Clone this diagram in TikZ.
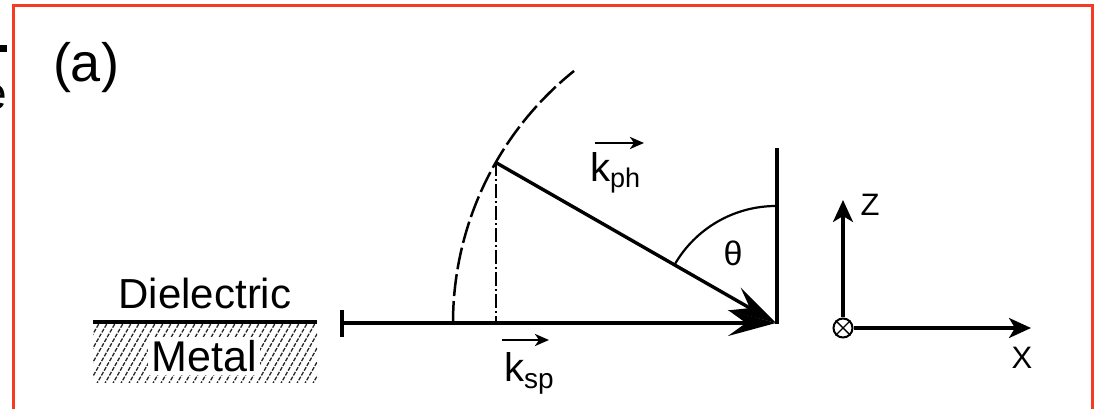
\documentclass[tikz,border=0pt]{standalone}
\usepackage{fontspec}
\setmainfont{Liberation Sans}
\usetikzlibrary{arrows.meta}
\definecolor{framered}{RGB}{245,60,35}
\begin{document}
\begin{tikzpicture}[x=1pt,y=1pt,
  heavy/.style={line width=3.4pt},
  bigtip/.style={-{Stealth[length=48pt,width=26pt,inset=18pt]}},
  vectip/.style={-{Stealth[length=14pt,width=12pt,inset=4pt]}},
  axtip/.style={-{Stealth[length=22pt,width=20pt,inset=6pt]}},
  txt/.style={inner sep=0pt},
  hatchline/.style={line width=1.3pt, black!85, dash pattern=on 4pt off 1.5pt}]
\useasboundingbox (0,0) rectangle (1095,409);
% frame
\draw[framered, line width=3pt] (13.5,-5) -- (13.5,403) -- (1092.5,403) -- (1092.5,-5);
% cut-off fragments at left edge
\begin{scope}
  \clip (0,0) rectangle (8,409);
  \fill (0,357) rectangle (7,364);
  \node[txt, anchor=east, font=\fontsize{46}{50}\selectfont] (frag) at (7,312) {e};
\end{scope}
% (a)
\node[txt, font=\fontsize{54}{60}\selectfont] (lab) at (86,341) {(a)};
% metal / dielectric
\begin{scope}
  \clip (93,26) rectangle (317,87);
  \foreach \x in {40,48,...,330} {
    \draw[hatchline] (\x,24) -- (\x+37,89);
  }
\end{scope}
\coordinate (surfL) at (93,87);
\coordinate (surfR) at (317,87);
\draw[line width=4.2pt] (surfL) -- (surfR);
\node[txt, font=\fontsize{42}{48}\selectfont] (diel) at (205,116) {Dielectric};
\node[fill=white, inner sep=3pt, font=\fontsize{43}{48}\selectfont] (metal) at (204,53) {Metal};
% main geometry
\coordinate (O) at (776,86);
\coordinate (S) at (342,86);
\coordinate (Sa) at (342,99);
\coordinate (Sb) at (342,72);
\coordinate (W) at (777,261);
\coordinate (Wb) at (777,84.5);
\path (O) ++(150.2:323) coordinate (P);
\coordinate (F) at (P |- O);
\draw[heavy] (Sa) -- (Sb);
\draw[heavy, bigtip] (S) -- (O);
\draw[line width=4.2pt] (Wb) -- (W);
\draw[heavy, bigtip] (P) -- (O);
% dashed circle and projection
\draw[line width=2.5pt, dash pattern=on 22pt off 5pt] (O) ++(180:323) arc (180:128.7:323);
\draw[line width=2.2pt, dash pattern=on 14pt off 3pt on 2pt off 3pt] (P) -- (F);
% theta arc
\draw[line width=2.2pt] (O) ++(90:117) arc (90:150.2:117);
\node[txt, font=\fontsize{34}{40}\selectfont] (theta) at (733,156) {θ};
% vector labels
\node[txt, anchor=base west, font=\fontsize{40}{44}\selectfont] (kph) at (590,227)
  {k\raisebox{-6pt}{\fontsize{27}{30}\selectfont ph}};
\coordinate (kphA) at (595,266);
\coordinate (kphB) at (644,266);
\draw[line width=2.6pt, vectip] (kphA) -- (kphB);
\node[txt, anchor=base west, font=\fontsize{40}{44}\selectfont] (ksp) at (504,27)
  {k\raisebox{-7pt}{\fontsize{28}{30}\selectfont sp}};
\coordinate (kspA) at (502,69);
\coordinate (kspB) at (549,69);
\draw[line width=2.6pt, vectip] (kspA) -- (kspB);
% axes
\node[circle, draw, line width=2pt, minimum size=19pt, inner sep=0pt] (orig) at (843,81) {};
\draw[line width=1.4pt] (orig.north east) -- (orig.south west) (orig.north west) -- (orig.south east);
\coordinate (zend) at (843,209);
\coordinate (xend) at (1031,81);
\draw[line width=3.2pt, axtip] (orig.north) -- (zend);
\draw[line width=3.2pt, axtip] (orig.east) -- (xend);
\node[txt, font=\fontsize{31}{34}\selectfont] (zl) at (870,204) {Z};
\node[txt, font=\fontsize{31}{34}\selectfont] (xl) at (1022,51) {X};
\end{tikzpicture}
\end{document}
